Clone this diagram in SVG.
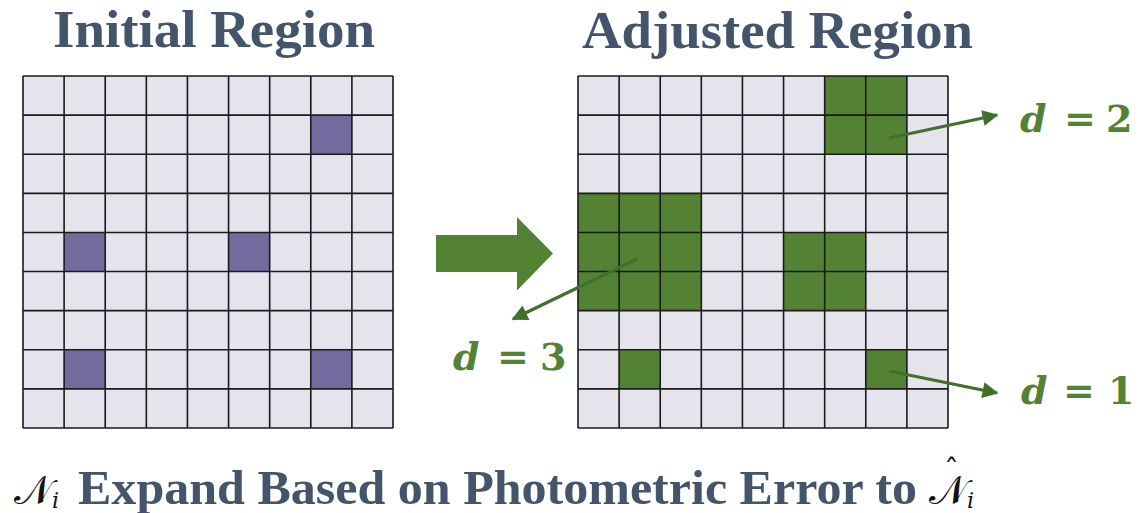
<svg xmlns="http://www.w3.org/2000/svg" width="1140" height="513" viewBox="0 0 1140 513">
<defs>
<style>
.title{font-family:"Liberation Serif","Times New Roman",serif;font-weight:bold;fill:#44546A;}
.cell{fill:#E5E3EC;}
.pur{fill:#746A9E;}
.grn{fill:#548235;}
.grid{fill:none;stroke:#1a1a1a;stroke-width:1.6;}
.lbl{font-family:"DejaVu Serif",serif;font-weight:bold;fill:#548235;font-size:38px;}
.conn{stroke:#41702C;stroke-width:3.2;fill:none;marker-end:url(#ah);}
.math{font-family:"DejaVu Serif","DejaVu Sans",serif;fill:#111;}
</style>
<marker id="ah" viewBox="0 0 10 10" refX="9" refY="5" markerWidth="5.5" markerHeight="5" orient="auto" markerUnits="strokeWidth">
<path d="M0,0 L10,5 L0,10 z" fill="#41702C"/>
</marker>
</defs>
<rect width="1140" height="513" fill="#fff"/>
<text class="title" x="53" y="47" font-size="52" textLength="322" lengthAdjust="spacingAndGlyphs">Initial Region</text>
<text class="title" x="582" y="48" font-size="52" textLength="391" lengthAdjust="spacingAndGlyphs">Adjusted Region</text>
<g id="grid-initial">
<rect class="cell" x="23" y="76" width="370" height="352"/>
<rect class="pur" x="310.78" y="115.11" width="41.11" height="39.11"/>
<rect class="pur" x="64.11" y="232.44" width="41.11" height="39.11"/>
<rect class="pur" x="228.56" y="232.44" width="41.11" height="39.11"/>
<rect class="pur" x="64.11" y="349.78" width="41.11" height="39.11"/>
<rect class="pur" x="310.78" y="349.78" width="41.11" height="39.11"/>
<path class="grid" d="M23,76V428M64.11,76V428M105.22,76V428M146.33,76V428M187.44,76V428M228.56,76V428M269.67,76V428M310.78,76V428M351.89,76V428M393,76V428M23,76H393M23,115.11H393M23,154.22H393M23,193.33H393M23,232.44H393M23,271.56H393M23,310.67H393M23,349.78H393M23,388.89H393M23,428H393"/>
</g>
<g id="big-arrow">
<path d="M436,235 H517 V217 L553,253.5 L517,290.5 V272 H436 Z" fill="#548235"/>
</g>
<g id="grid-adjusted">
<rect class="cell" x="578" y="76" width="370" height="352"/>
<rect class="grn" x="824.67" y="76" width="82.22" height="78.22"/>
<rect class="grn" x="578" y="193.33" width="123.33" height="117.33"/>
<rect class="grn" x="783.56" y="232.44" width="82.22" height="78.22"/>
<rect class="grn" x="619.11" y="349.78" width="41.11" height="39.11"/>
<rect class="grn" x="865.78" y="349.78" width="41.11" height="39.11"/>
<path class="grid" d="M578,76V428M619.11,76V428M660.22,76V428M701.33,76V428M742.44,76V428M783.56,76V428M824.67,76V428M865.78,76V428M906.89,76V428M948,76V428M578,76H948M578,115.11H948M578,154.22H948M578,193.33H948M578,232.44H948M578,271.56H948M578,310.67H948M578,349.78H948M578,388.89H948M578,428H948"/>
</g>
<g id="connectors">
<line class="conn" x1="889" y1="138" x2="997" y2="115"/>
<line class="conn" x1="637" y1="259" x2="513" y2="319"/>
<line class="conn" x1="889" y1="371" x2="997" y2="393"/>
</g>
<g id="label-d2">
<text class="lbl" y="132"><tspan x="1020" font-style="italic">d</tspan><tspan x="1064">=</tspan><tspan x="1106">2</tspan></text>
</g>
<g id="label-d3">
<text class="lbl" y="370"><tspan x="453" font-style="italic">d</tspan><tspan x="497">=</tspan><tspan x="540">3</tspan></text>
</g>
<g id="label-d1">
<text class="lbl" y="404"><tspan x="1021" font-style="italic">d</tspan><tspan x="1063">=</tspan><tspan x="1108">1</tspan></text>
</g>
<g id="caption">
<text class="math" x="14" y="504" font-size="40">𝒩<tspan font-size="22" font-style="italic" dy="4">i</tspan></text>
<text class="title" x="78" y="504" font-size="48" textLength="839" lengthAdjust="spacingAndGlyphs">Expand Based on Photometric Error to</text>
<text class="math" x="929" y="504" font-size="40">𝒩<tspan font-size="22" font-style="italic" dy="4">i</tspan></text>
<text class="math" x="944" y="480" font-size="30">ˆ</text>
</g>
</svg>
